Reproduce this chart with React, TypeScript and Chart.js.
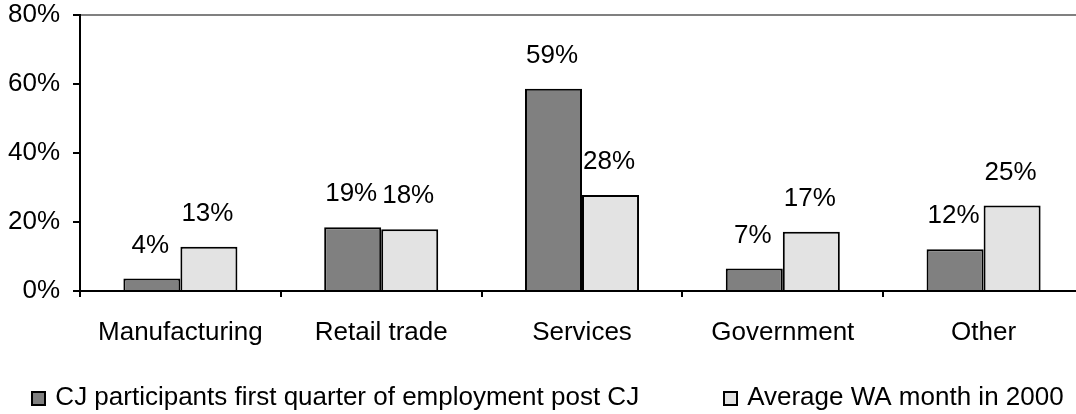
import React, { useEffect, useRef } from "react";
import { Chart, registerables } from "chart.js";

Chart.register(...registerables);

const categories = ["Manufacturing", "Retail trade", "Services", "Government", "Other"];
const cjParticipants = [3.6, 18.5, 58.6, 6.5, 12.1];
const waAverage = [12.8, 17.9, 27.8, 17.2, 24.8];
const seriesNames = [
  "CJ participants first quarter of employment post CJ",
  "Average WA month in 2000",
];
const seriesColors = ["#808080", "#e3e3e3"];
const yMin = 0;
const yMax = 80;
const yStep = 20;

const FONT = '"Liberation Sans", Arial, sans-serif';
const FONT_SIZE = 26;

const barLabels = {
  id: "barLabels",
  afterDatasetsDraw(chart: any) {
    const ctx = chart.ctx;
    ctx.save();
    ctx.font = `${FONT_SIZE}px ${FONT}`;
    ctx.fillStyle = "#000";
    ctx.textAlign = "center";
    ctx.textBaseline = "middle";
    chart.data.datasets.forEach((ds: any, i: number) => {
      const meta = chart.getDatasetMeta(i);
      meta.data.forEach((el: any, j: number) => {
        const v = ds.data[j] as number;
        ctx.fillText(Math.round(v) + "%", el.x - 1.5, el.y - 33);
      });
    });
    ctx.restore();
  },
};

// Legend drawn on the canvas from the datasets' own labels and colours
const LEGEND = { centerX: 548, centerY: 398, box: 13, gapBoxText: 10, gapItems: 85 };
const bottomLegend = {
  id: "bottomLegend",
  afterDraw(chart: any) {
    const ctx = chart.ctx;
    ctx.save();
    ctx.font = `${FONT_SIZE}px ${FONT}`;
    const items = chart.data.datasets.map((ds: any) => ({
      text: ds.label as string,
      fill: ds.backgroundColor as string,
      stroke: ds.borderColor as string,
      w: LEGEND.box + LEGEND.gapBoxText + ctx.measureText(ds.label).width,
    }));
    const total =
      items.reduce((s: number, it: any) => s + it.w, 0) + LEGEND.gapItems * (items.length - 1);
    let x = LEGEND.centerX - total / 2;
    const cy = LEGEND.centerY;
    items.forEach((it: any) => {
      const by = Math.round(cy - LEGEND.box / 2);
      const bx = Math.round(x);
      ctx.fillStyle = it.fill;
      ctx.fillRect(bx, by, LEGEND.box, LEGEND.box);
      ctx.strokeStyle = it.stroke;
      ctx.lineWidth = 2;
      ctx.strokeRect(bx, by, LEGEND.box, LEGEND.box);
      ctx.fillStyle = "#000";
      ctx.textAlign = "left";
      ctx.textBaseline = "middle";
      ctx.fillText(it.text, x + LEGEND.box + LEGEND.gapBoxText, cy);
      x += it.w + LEGEND.gapItems;
    });
    ctx.restore();
  },
};

export default function App() {
  const ref = useRef<HTMLCanvasElement | null>(null);

  useEffect(() => {
    if (!ref.current) return;
    const chart = new Chart(ref.current, {
      type: "bar",
      data: {
        labels: categories,
        datasets: [
          {
            label: seriesNames[0],
            data: cjParticipants,
            backgroundColor: seriesColors[0],
            borderColor: "#000",
            borderWidth: 2,
            categoryPercentage: 0.568,
            barPercentage: 1,
          },
          {
            label: seriesNames[1],
            data: waAverage,
            backgroundColor: seriesColors[1],
            borderColor: "#000",
            borderWidth: 2,
            categoryPercentage: 0.568,
            barPercentage: 1,
          },
        ],
      },
      options: {
        responsive: false,
        animation: false,
        devicePixelRatio: 1,
        layout: { padding: { top: 15, left: 0, right: 16, bottom: 0 } },
        plugins: {
          tooltip: { enabled: false },
          legend: { display: false },
        },
        scales: {
          x: {
            afterFit: (s: any) => {
              s.height = 123;
              s.paddingLeft = 0;
              s.paddingRight = 0;
            },
            grid: {
              display: true,
              drawOnChartArea: false,
              drawTicks: true,
              tickLength: 6,
              tickColor: "#000",
              tickWidth: 2,
              lineWidth: 2,
              offset: true,
            },
            border: { display: true, color: "#000", width: 2 },
            ticks: {
              font: { size: FONT_SIZE, family: FONT },
              color: "#000",
              padding: 20,
              maxRotation: 0,
              autoSkip: false,
            },
          },
          y: {
            min: yMin,
            max: yMax,
            afterFit: (s: any) => {
              s.width = 80;
              s.paddingTop = 0;
              s.paddingBottom = 0;
            },
            grid: {
              color: (c: any) => (c.tick && c.tick.value === yMax ? "#808080" : "rgba(0,0,0,0)"),
              lineWidth: 2,
              drawTicks: true,
              tickLength: 7,
              tickColor: "#000",
              tickWidth: 2,
            },
            border: { display: true, color: "#000", width: 2 },
            ticks: {
              stepSize: yStep,
              font: { size: FONT_SIZE, family: FONT },
              color: "#000",
              padding: 13,
              callback: (v: any) => v + "%",
            },
          },
        },
      },
      plugins: [barLabels, bottomLegend],
    });
    return () => chart.destroy();
  }, []);

  return (
    <div
      style={{
        position: "absolute",
        left: 0,
        top: 0,
        width: 1076,
        height: 414,
        overflow: "hidden",
        background: "#fff",
      }}
    >
      <canvas ref={ref} width={1100} height={414} style={{ display: "block" }} />
    </div>
  );
}
